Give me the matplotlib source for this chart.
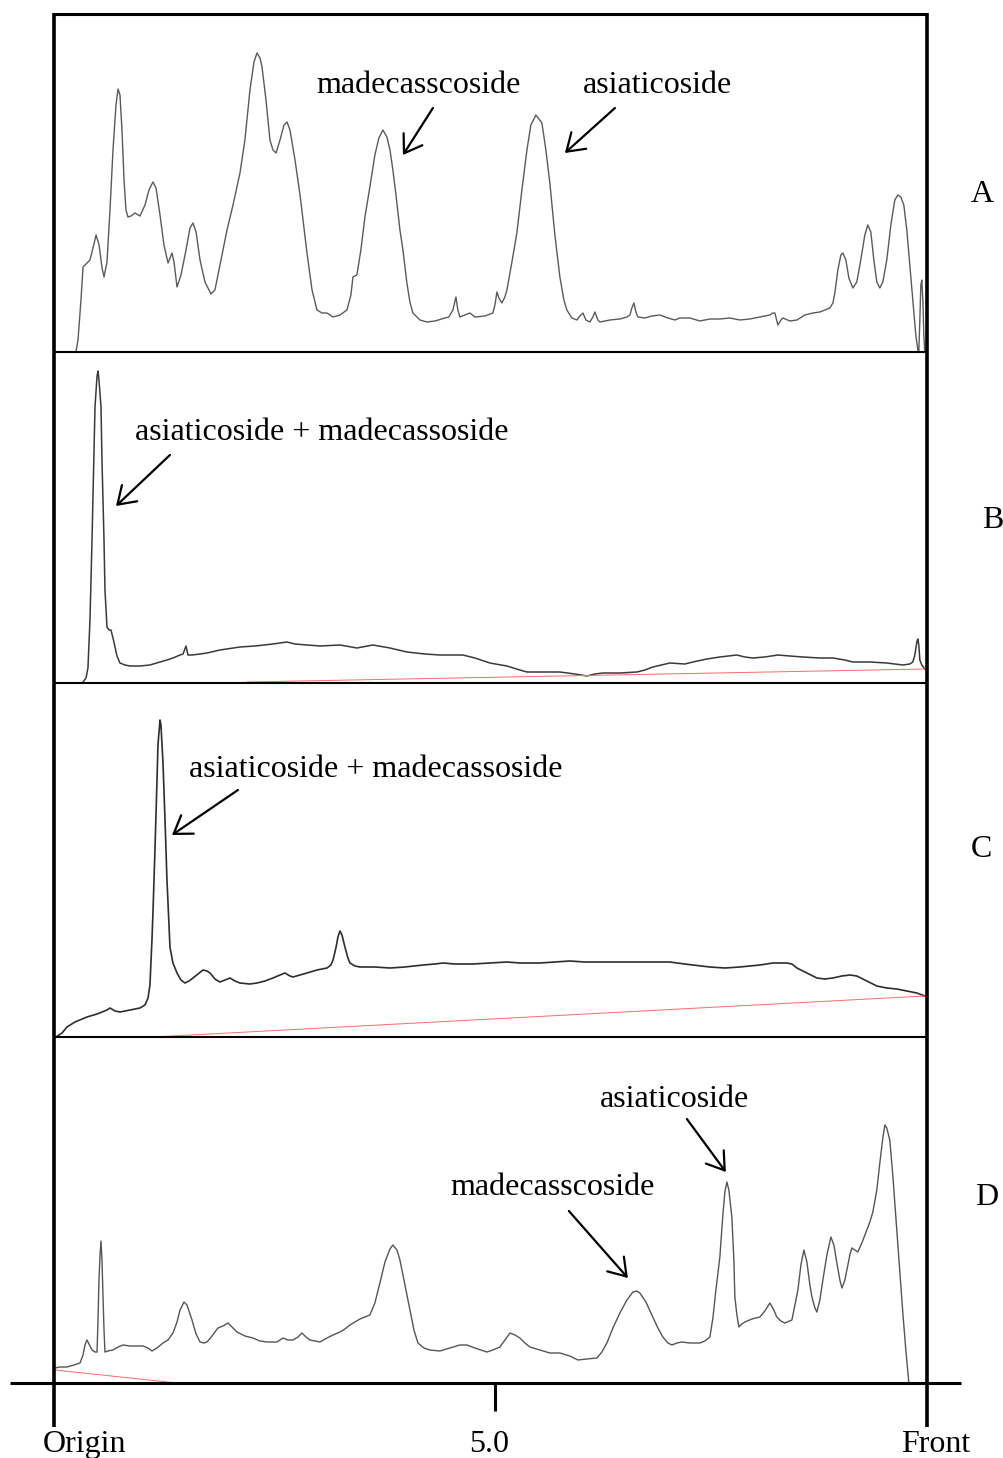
import matplotlib
matplotlib.use("Agg")
import matplotlib.pyplot as plt
from matplotlib.lines import Line2D

plt.rcParams["font.family"] = ["Liberation Serif", "DejaVu Serif"]
FS = 23

# ---------------------------------------------------------------------------
# Densitometric scans (track position in cm from the origin, signal in AU)
# ---------------------------------------------------------------------------
FRONT = 9.9
RF_TICK = 5.0
axis_labels = ["Origin", "5.0", "Front"]
panel_names = ["A", "B", "C", "D"]

# A: reference mixture
a_x = [0.000, 0.249, 0.272, 0.306, 0.329, 0.385, 0.408, 0.442, 0.477, 0.511,
       0.545, 0.567, 0.601, 0.635, 0.669, 0.703, 0.726, 0.748, 0.771, 0.794,
       0.816, 0.839, 0.873, 0.918, 0.975, 1.032, 1.077, 1.122, 1.157, 1.202,
       1.247, 1.293, 1.338, 1.361, 1.395, 1.440, 1.497, 1.542, 1.576, 1.611,
       1.656, 1.712, 1.780, 1.825, 1.882, 1.962, 2.030, 2.109, 2.165, 2.222,
       2.268, 2.302, 2.336, 2.359, 2.404, 2.449, 2.483, 2.518, 2.563, 2.608,
       2.642, 2.676, 2.733, 2.790, 2.869, 2.926, 2.982, 3.039, 3.096, 3.164,
       3.243, 3.322, 3.367, 3.390, 3.435, 3.480, 3.526, 3.582, 3.639, 3.684,
       3.730, 3.775, 3.810, 3.843, 3.878, 3.923, 3.957, 4.002, 4.036, 4.070,
       4.150, 4.229, 4.320, 4.433, 4.478, 4.524, 4.558, 4.580, 4.603, 4.660,
       4.716, 4.773, 4.887, 4.977, 5.000, 5.023, 5.045, 5.079, 5.113, 5.136,
       5.193, 5.249, 5.306, 5.363, 5.408, 5.465, 5.533, 5.578, 5.623, 5.680,
       5.737, 5.782, 5.816, 5.873, 5.930, 5.964, 5.998, 6.032, 6.077, 6.111,
       6.134, 6.168, 6.191, 6.304, 6.417, 6.497, 6.531, 6.553, 6.576, 6.599,
       6.621, 6.701, 6.780, 6.871, 6.962, 7.041, 7.098, 7.211, 7.325, 7.438,
       7.551, 7.665, 7.778, 7.891, 8.005, 8.118, 8.152, 8.175, 8.209, 8.243,
       8.266, 8.345, 8.425, 8.515, 8.606, 8.685, 8.799, 8.833, 8.855, 8.889,
       8.923, 8.946, 8.980, 9.014, 9.059, 9.104, 9.149, 9.195, 9.229, 9.263,
       9.297, 9.331, 9.365, 9.399, 9.444, 9.490, 9.535, 9.569, 9.603, 9.637,
       9.671, 9.705, 9.739, 9.773, 9.796, 9.807, 9.819, 9.830, 9.841, 9.853,
       9.864, 9.875, 9.887]
a_y = [0, 0, 12, 52, 85, 90, 92, 104, 117, 107,
       84, 75, 90, 142, 202, 247, 263, 257, 222, 172,
       142, 135, 136, 139, 136, 147, 162, 170, 164, 137,
       107, 89, 99, 90, 65, 77, 102, 124, 129, 120,
       92, 70, 58, 62, 87, 122, 147, 179, 212, 262,
       290, 299, 294, 285, 252, 212, 202, 199, 212, 227,
       230, 222, 192, 157, 99, 62, 42, 39, 39, 35,
       37, 42, 57, 75, 77, 102, 135, 165, 197, 214,
       222, 215, 202, 182, 157, 122, 102, 69, 50, 39,
       32, 30, 31, 34, 35, 42, 55, 42, 35, 37,
       39, 35, 36, 39, 47, 60, 54, 49, 55, 62,
       90, 119, 162, 202, 227, 237, 229, 202, 169, 117,
       75, 52, 42, 34, 32, 36, 39, 32, 30, 35,
       40, 32, 30, 32, 33, 35, 37, 44, 49, 40,
       35, 34, 36, 37, 34, 32, 34, 34, 31, 33,
       33, 34, 32, 33, 35, 37, 39, 39, 27, 32,
       34, 31, 32, 37, 39, 40, 44, 49, 59, 82,
       97, 99, 92, 74, 64, 70, 92, 117, 127, 120,
       92, 70, 64, 70, 92, 127, 152, 157, 155, 147,
       122, 87, 52, 17, 2, 0, 32, 67, 72, 52,
       17, 0, 0]

# B: sample track 1
b_x = [0.329, 0.363, 0.385, 0.408, 0.431, 0.454, 0.465, 0.488, 0.499, 0.510,
       0.533, 0.544, 0.567, 0.578, 0.601, 0.624, 0.646, 0.669, 0.692, 0.714,
       0.748, 0.805, 0.862, 0.975, 1.088, 1.202, 1.281, 1.349, 1.429, 1.463,
       1.497, 1.519, 1.565, 1.656, 1.735, 1.882, 2.109, 2.279, 2.483, 2.563,
       2.642, 2.733, 2.869, 3.016, 3.243, 3.435, 3.616, 3.810, 4.002, 4.206,
       4.376, 4.637, 4.773, 4.943, 5.136, 5.283, 5.363, 5.510, 5.737, 5.907,
       6.043, 6.134, 6.225, 6.417, 6.610, 6.701, 6.791, 6.984, 7.154, 7.245,
       7.404, 7.551, 7.744, 7.835, 7.925, 8.061, 8.209, 8.345, 8.493, 8.685,
       8.833, 8.969, 9.059, 9.252, 9.444, 9.626, 9.705, 9.739, 9.762, 9.785,
       9.796, 9.807, 9.819, 9.841, 9.875]
b_y = [1, 5, 15, 63, 143, 233, 276, 307, 312, 303,
       276, 223, 143, 93, 56, 53, 53, 45, 36, 27,
       20, 18, 17, 17, 18, 21, 23, 25, 28, 29,
       37, 28, 28, 29, 30, 33, 36, 37, 39, 40,
       41, 39, 38, 37, 38, 35, 38, 35, 31, 29,
       28, 28, 25, 20, 17, 13, 11, 11, 11, 9,
       7, 9, 10, 10, 11, 13, 16, 20, 19, 21,
       24, 26, 28, 26, 25, 26, 28, 27, 26, 25,
       25, 23, 21, 21, 20, 18, 19, 21, 28, 41,
       44, 38, 23, 18, 14]
b_base_x = [2.188, 9.875]
b_base_y = [1, 14]

# C: sample track 2
c_x = [0.023, 0.091, 0.147, 0.238, 0.374, 0.488, 0.601, 0.635, 0.692, 0.748,
       0.862, 0.975, 1.032, 1.066, 1.088, 1.111, 1.122, 1.145, 1.168, 1.179,
       1.202, 1.213, 1.236, 1.259, 1.281, 1.304, 1.315, 1.349, 1.395, 1.440,
       1.485, 1.531, 1.576, 1.633, 1.690, 1.735, 1.769, 1.825, 1.882, 1.939,
       1.996, 2.052, 2.109, 2.222, 2.302, 2.392, 2.483, 2.563, 2.619, 2.676,
       2.710, 2.790, 2.869, 2.982, 3.096, 3.141, 3.164, 3.197, 3.220, 3.243,
       3.266, 3.299, 3.333, 3.356, 3.413, 3.469, 3.639, 3.810, 3.980, 4.184,
       4.320, 4.410, 4.546, 4.750, 4.943, 5.136, 5.283, 5.510, 5.680, 5.850,
       6.020, 6.191, 6.417, 6.644, 6.814, 6.984, 7.154, 7.245, 7.438, 7.608,
       7.778, 7.891, 8.005, 8.152, 8.311, 8.368, 8.425, 8.515, 8.651, 8.742,
       8.833, 8.934, 9.025, 9.104, 9.195, 9.331, 9.444, 9.558, 9.671, 9.785,
       9.875]
c_y = [0, 4, 10, 15, 20, 23, 27, 29, 26, 25,
       27, 29, 32, 39, 52, 97, 124, 187, 257, 292,
       317, 312, 274, 217, 157, 112, 90, 74, 64, 57,
       54, 56, 59, 63, 67, 66, 64, 58, 55, 57,
       59, 56, 54, 53, 54, 56, 59, 62, 64, 61,
       60, 62, 64, 67, 69, 72, 77, 89, 100, 106,
       102, 90, 79, 74, 71, 70, 70, 69, 70, 72,
       73, 74, 73, 73, 74, 75, 74, 74, 75, 76,
       75, 75, 75, 75, 75, 75, 73, 72, 70, 69,
       70, 71, 72, 74, 74, 73, 69, 65, 59, 58,
       59, 61, 62, 61, 57, 51, 49, 48, 46, 44,
       41]
c_base_x = [1.122, 9.875]
c_base_y = [0, 41]

# D: sample track 3
d_x = [0.011, 0.068, 0.147, 0.227, 0.295, 0.329, 0.351, 0.374, 0.397, 0.431,
       0.465, 0.488, 0.499, 0.510, 0.522, 0.533, 0.544, 0.556, 0.567, 0.578,
       0.612, 0.669, 0.726, 0.782, 0.862, 0.941, 1.009, 1.066, 1.111, 1.168,
       1.236, 1.293, 1.349, 1.395, 1.429, 1.474, 1.508, 1.542, 1.565, 1.611,
       1.656, 1.701, 1.735, 1.792, 1.859, 1.916, 1.973, 2.018, 2.075, 2.165,
       2.256, 2.336, 2.415, 2.528, 2.596, 2.653, 2.710, 2.767, 2.812, 2.857,
       2.903, 2.959, 3.016, 3.096, 3.164, 3.243, 3.299, 3.356, 3.413, 3.469,
       3.526, 3.582, 3.639, 3.696, 3.753, 3.810, 3.843, 3.889, 3.923, 3.980,
       4.036, 4.082, 4.127, 4.195, 4.263, 4.376, 4.489, 4.603, 4.682, 4.773,
       4.909, 4.977, 5.057, 5.113, 5.170, 5.227, 5.283, 5.340, 5.397, 5.510,
       5.623, 5.737, 5.850, 5.941, 6.043, 6.157, 6.213, 6.270, 6.338, 6.417,
       6.497, 6.565, 6.610, 6.644, 6.712, 6.791, 6.848, 6.905, 6.962, 7.007,
       7.064, 7.120, 7.211, 7.325, 7.381, 7.438, 7.472, 7.506, 7.551, 7.585,
       7.608, 7.631, 7.653, 7.687, 7.710, 7.721, 7.744, 7.767, 7.800, 7.835,
       7.914, 8.005, 8.061, 8.118, 8.163, 8.197, 8.243, 8.288, 8.368, 8.402,
       8.436, 8.470, 8.504, 8.538, 8.572, 8.595, 8.629, 8.651, 8.685, 8.719,
       8.765, 8.810, 8.844, 8.878, 8.912, 8.935, 8.969, 8.991, 9.025, 9.048,
       9.081, 9.116, 9.161, 9.218, 9.252, 9.286, 9.331, 9.365, 9.399, 9.422,
       9.444, 9.478, 9.512, 9.558, 9.592, 9.626, 9.660, 9.694]
d_y = [15, 16, 16, 18, 20, 28, 38, 43, 39, 33,
       31, 31, 63, 103, 128, 142, 123, 86, 53, 31,
       32, 33, 36, 38, 37, 37, 37, 35, 32, 35,
       40, 43, 50, 61, 73, 81, 78, 69, 63, 49,
       41, 40, 41, 47, 55, 57, 60, 56, 51, 47,
       45, 42, 41, 41, 45, 43, 43, 46, 50, 46,
       43, 42, 41, 45, 48, 51, 54, 58, 61, 64,
       66, 68, 80, 100, 121, 134, 138, 133, 123, 98,
       73, 53, 40, 35, 33, 32, 35, 38, 38, 35,
       31, 33, 36, 43, 50, 48, 45, 40, 36, 33,
       30, 30, 27, 23, 24, 25, 31, 40, 55, 70,
       83, 91, 92, 90, 81, 66, 55, 46, 40, 38,
       40, 41, 40, 40, 42, 46, 65, 93, 126, 168,
       191, 201, 193, 166, 123, 86, 68, 56, 59, 61,
       64, 66, 72, 80, 73, 66, 62, 60, 63, 78,
       93, 118, 133, 121, 98, 86, 75, 71, 83, 103,
       128, 146, 138, 120, 103, 95, 103, 113, 128, 135,
       133, 131, 140, 153, 161, 171, 193, 220, 245, 258,
       255, 243, 208, 153, 111, 70, 33, 0]
d_base_x = [0.011, 1.395]
d_base_y = [13, 0]

# ---------------------------------------------------------------------------
# Figure layout (pixel rows of the stacked panels)
# ---------------------------------------------------------------------------
W, H = 1004, 1458
X0, X1 = 54, 927
rows = [(14, 352), (352, 683), (683, 1037), (1037, 1383)]
AXIS_Y = 1383

fig = plt.figure(figsize=(W / 100, H / 100), dpi=100)


def fig_line(x0, y0, x1, y1, lw, color="black"):
    fig.add_artist(Line2D([x0 / W, x1 / W], [1 - y0 / H, 1 - y1 / H],
                          transform=fig.transFigure, lw=lw, color=color,
                          solid_capstyle="butt"))


axes = []
for top, bot in rows:
    ax = fig.add_axes([X0 / W, 1 - bot / H, (X1 - X0) / W, (bot - top) / H])
    ax.set_xlim(0, FRONT)
    ax.set_ylim(0, bot - top)
    for s in ax.spines.values():
        s.set_visible(False)
    ax.set_xticks([])
    ax.set_yticks([])
    ax.patch.set_alpha(0)
    axes.append(ax)

ax_a, ax_b, ax_c, ax_d = axes

# traces
ax_a.plot(a_x, a_y, color="#5a5a5a", lw=1.0)
ax_b.plot(b_x, b_y, color="#3a3a3a", lw=1.1)
ax_c.plot(c_x, c_y, color="#2e2e2e", lw=1.2)
ax_d.plot(d_x, d_y, color="#555555", lw=1.0)

# integration baselines
for ax, bx, by in [(ax_b, b_base_x, b_base_y),
                   (ax_c, c_base_x, c_base_y),
                   (ax_d, d_base_x, d_base_y)]:
    ax.plot(bx, by, color="#ff6a6a", lw=0.7)

# frame
fig_line(X0, 14, X1, 14, 2.2)
for _, bot in rows[:-1]:
    fig_line(X0, bot, X1, bot, 1.5)
fig_line(X0, 13, X0, 1427, 2.6)
fig_line(X1, 13, X1, 1427, 2.6)
fig_line(10, AXIS_Y, 961, AXIS_Y, 2.2)

# Rf tick at 5.0
ax_d.set_xticks([RF_TICK])
ax_d.tick_params(axis="x", direction="out", length=20, width=2.2,
                 color="black", labelbottom=False)

lab_tr = ax_d.get_xaxis_transform()
lab_y = -(1452 - AXIS_Y) / (rows[3][1] - rows[3][0])
for xpos, txt in zip([0.35, 4.94, 10.0], axis_labels):
    ax_d.text(xpos, lab_y, txt, transform=lab_tr, ha="center",
              va="baseline", fontsize=FS)

# panel letters
for ax, (lx, ly), name in zip(axes, [(10.53, 150), (10.65, 155),
                                     (10.52, 180), (10.58, 178)],
                              panel_names):
    ax.text(lx, ly, name, ha="center", va="baseline", fontsize=FS)


def label_arrow(ax, text, tx, ty, tail, head):
    ax.text(tx, ty, text, ha="center", va="baseline", fontsize=FS)
    ax.annotate("", xy=head, xytext=tail,
                arrowprops=dict(arrowstyle="->,head_length=0.6,head_width=0.4",
                                lw=1.6, color="black", shrinkA=0, shrinkB=0,
                                mutation_scale=20))


label_arrow(ax_a, "madecasscoside", 4.133, 259, (4.297, 244), (3.957, 197))
label_arrow(ax_a, "asiaticoside", 6.848, 259, (6.361, 244), (5.794, 199))
label_arrow(ax_b, "asiaticoside + madecassoside", 3.033, 243,
            (1.315, 228), (0.703, 177))
label_arrow(ax_c, "asiaticoside + madecassoside", 3.645, 260,
            (2.086, 247), (1.338, 202))
label_arrow(ax_d, "asiaticoside", 7.041, 276, (7.177, 264), (7.619, 211))
label_arrow(ax_d, "madecasscoside", 5.658, 188, (5.839, 172), (6.508, 105))

fig.savefig("out.png", dpi=100)
